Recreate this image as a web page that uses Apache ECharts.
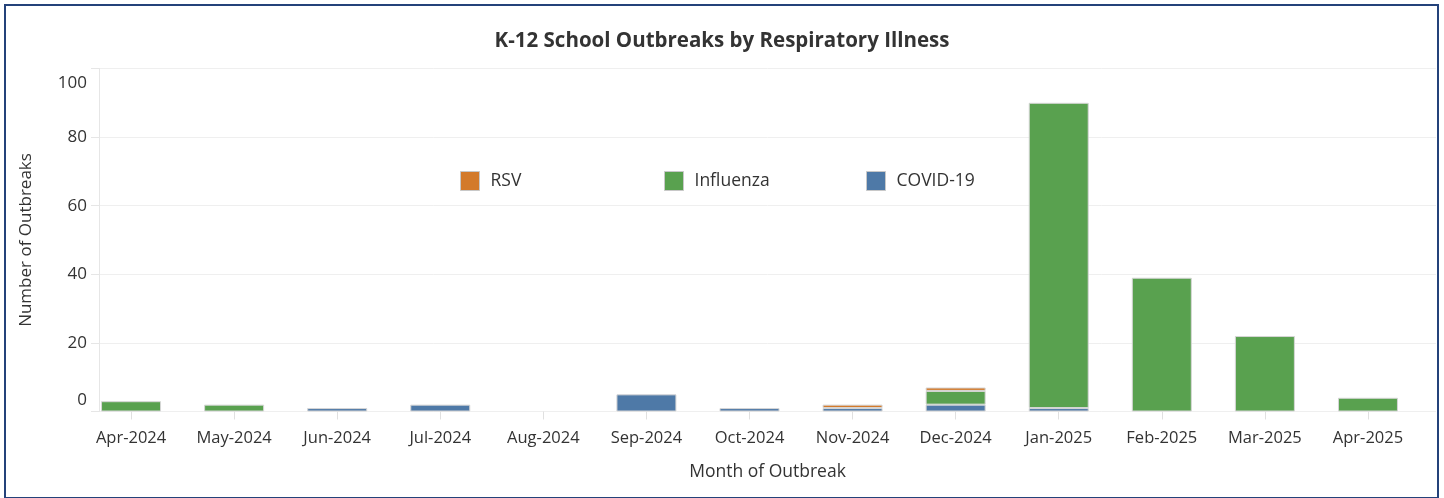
<!DOCTYPE html>
<html>
<head>
<meta charset="utf-8">
<script src="https://cdn.jsdelivr.net/npm/echarts@6/dist/echarts.min.js"></script>
<style>
html,body{margin:0;padding:0;background:#fff;}
#chart{position:absolute;left:0;top:0;width:1444px;height:498px;}
#frame{position:absolute;left:4px;top:4px;width:1431px;height:491px;border:2px solid #24427a;pointer-events:none;}
</style>
</head>
<body>
<div id="chart"></div>
<div id="frame"></div>
<script>
const months = ['Apr-2024','May-2024','Jun-2024','Jul-2024','Aug-2024','Sep-2024','Oct-2024','Nov-2024','Dec-2024','Jan-2025','Feb-2025','Mar-2025','Apr-2025'];
const covid = [0, 0, 1, 2, 0, 5, 1, 1, 2, 1, 0, 0, 0];
const influenza = [3, 2, 0, 0, 0, 0, 0, 0, 4, 89, 39, 22, 4];
const rsv = [0, 0, 0, 0, 0, 0, 0, 1, 1, 0, 0, 0, 0];
const yTicks = [0, 20, 40, 60, 80, 100];

const FONT = '"Open Sans", "Noto Sans", sans-serif';
const COLORS = { RSV: '#d37a2b', Influenza: '#59a14f', 'COVID-19': '#4e79a7' };
const zeroToNull = a => a.map(v => v === 0 ? null : v);

const chart = echarts.init(document.getElementById('chart'), null, { renderer: 'canvas' });

function barSeries(name, data) {
  return {
    name, type: 'bar', stack: 'total', xAxisIndex: 0, yAxisIndex: 0,
    data: zeroToNull(data), barWidth: 60,
    itemStyle: { color: COLORS[name], borderColor: '#d6d6d6', borderWidth: 1 },
    emphasis: { disabled: true }
  };
}

function legendFor(name, left) {
  return {
    data: [{ name, icon: 'rect', itemStyle: { borderColor: '#c8c8c8', borderWidth: 1 } }],
    left, top: 166, itemWidth: 19, itemHeight: 19, itemGap: 10,
    textStyle: { fontFamily: FONT, fontSize: 17.5, color: '#333', padding: [0, 0, 0, 6] }, selectedMode: false
  };
}

chart.setOption({
  animation: false,
  backgroundColor: '#fff',
  title: {
    text: 'K-12 School Outbreaks by Respiratory Illness',
    left: 'center', top: 26,
    textStyle: { fontFamily: FONT, fontSize: 20.5, fontWeight: 'bold', color: '#333' }
  },
  legend: [legendFor('RSV', 455), legendFor('Influenza', 659), legendFor('COVID-19', 861)],
  grid: [
    { left: 79.5, right: 24.5, top: 68.5, bottom: 86.5 },
    { left: 99, right: 8, top: 68.5, bottom: 86.5 }
  ],
  xAxis: [
    {
      type: 'category', gridIndex: 0, data: months,
      axisLine: { show: false },
      axisTick: { show: true, alignWithLabel: true, length: 8, lineStyle: { color: '#e0e0e0' } },
      axisLabel: { fontFamily: FONT, fontSize: 16.5, color: '#333', margin: 18, interval: 0 }
    },
    {
      type: 'value', gridIndex: 1, min: 0, max: 1,
      axisLine: { show: false }, axisTick: { show: false }, axisLabel: { show: false }, splitLine: { show: false },
      name: 'Month of Outbreak', nameLocation: 'middle', nameGap: 52,
      nameTextStyle: { fontFamily: FONT, fontSize: 17.5, color: '#333' }
    }
  ],
  yAxis: [
    { type: 'value', gridIndex: 0, min: 0, max: 100, interval: 20, show: false },
    {
      type: 'value', gridIndex: 1, min: 0, max: 100, interval: 20,
      axisLine: { show: true, lineStyle: { color: '#e6e6e6' } },
      axisTick: { show: true, length: 8, lineStyle: { color: '#e6e6e6' } },
      splitLine: { show: true, lineStyle: { color: '#efefef', width: 1 } },
      axisLabel: {
        fontFamily: FONT, fontSize: 17, color: '#333', margin: 12,
        formatter: v => v === 100 ? '{top|100}' : (v === 0 ? '{bot|0}' : String(v)),
        rich: {
          top: { fontFamily: FONT, fontSize: 17, color: '#333', padding: [29, 0, 0, 0] },
          bot: { fontFamily: FONT, fontSize: 17, color: '#333', padding: [0, 0, 23, 0] }
        }
      },
      name: 'Number of Outbreaks', nameLocation: 'middle', nameGap: 64,
      nameTextStyle: { fontFamily: FONT, fontSize: 17, color: '#333' }
    }
  ],
  series: [
    barSeries('COVID-19', covid),
    barSeries('Influenza', influenza),
    barSeries('RSV', rsv)
  ]
});
</script>
</body>
</html>
